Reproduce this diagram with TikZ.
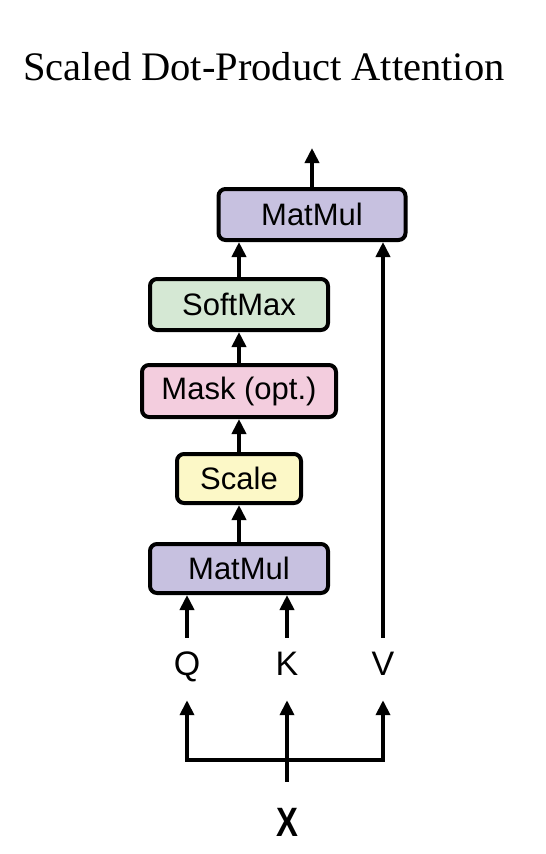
\documentclass[tikz,border=0pt]{standalone}
\usepackage{fontspec}
\setmainfont{Liberation Serif}
\setsansfont{Liberation Sans}
\newfontfamily\xfont[FakeStretch=0.8]{Liberation Sans}
\usetikzlibrary{arrows.meta}

\definecolor{mmfill}{RGB}{199,193,224}
\definecolor{smfill}{RGB}{213,232,212}
\definecolor{mkfill}{RGB}{243,205,222}
\definecolor{scfill}{RGB}{252,248,199}

\tikzset{
    blk/.style={draw, line width=4pt, rounded corners=7pt, inner sep=0pt,
        font=\sffamily\fontsize{31}{31}\selectfont},
    arr/.style={line width=3.9pt, -{Triangle[width=14pt, length=15pt]}},
    qkv/.style={inner sep=0pt, minimum height=62pt, text height=24pt, text depth=12pt,
        font=\sffamily\fontsize{34}{34}\selectfont},
}

\begin{document}
\begin{tikzpicture}[x=1pt, y=-1pt]
    \useasboundingbox (0, 0) rectangle (546, 854);

    \node (title) at (264, 67) {\fontsize{40.5}{40.5}\selectfont Scaled Dot-Product Attention};

    \node[blk, fill=mmfill, minimum width=187pt, minimum height=51pt] (mm2) at (312, 214.5) {MatMul};
    \node[blk, fill=smfill, minimum width=178pt, minimum height=51pt] (sm)  at (239, 304.5) {SoftMax};
    \node[blk, fill=mkfill, minimum width=194pt, minimum height=52pt] (mask) at (239, 391) {Mask (opt.)};
    \node[blk, fill=scfill, minimum width=124pt, minimum height=49pt] (scale) at (239, 478.5) {Scale};
    \node[blk, fill=mmfill, minimum width=178pt, minimum height=49pt] (mm1) at (239, 568.5) {MatMul};

    \node[qkv] (Q) at (187, 669) {Q};
    \node[qkv] (K) at (287, 669) {K};
    \node[qkv] (V) at (383, 669) {V};

    \node[inner xsep=0pt, inner ysep=24pt, text height=30pt, text depth=0pt,
        font=\xfont\bfseries\fontsize{41}{41}\selectfont] (X) at (287, 821) {X};

    \coordinate (out) at (312, 148);
    \coordinate (jn)  at (287, 760);

    % attention chain
    \draw[arr] (mm2.north) -- (out);
    \draw[arr] (sm.north) -- (sm.north |- mm2.south);
    \draw[arr] (mask.north) -- (sm.south);
    \draw[arr] (scale.north) -- (mask.south);
    \draw[arr] (mm1.north) -- (scale.south);
    \draw[arr] (Q.north) -- (Q.north |- mm1.south);
    \draw[arr] (K.north) -- (K.north |- mm1.south);
    \draw[arr] (V.north) -- (V.north |- mm2.south);

    % input split
    \draw[arr] (X.north) -- (K.south);
    \draw[arr] (jn) -| (Q.south);
    \draw[arr] (jn) -| (V.south);
\end{tikzpicture}
\end{document}
